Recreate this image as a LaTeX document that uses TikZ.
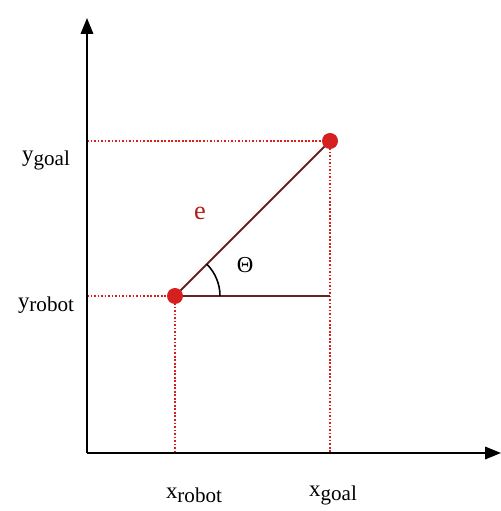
\documentclass[tikz,border=0pt]{standalone}
\usepackage{fontspec}
\setmainfont{Liberation Serif}
\usetikzlibrary{calc, positioning}
\usetikzlibrary{arrows.meta}

\definecolor{dotred}{RGB}{214,32,32}
\definecolor{linered}{RGB}{100,36,36}

\tikzset{
  axis/.style={line width=1.2pt, -{Triangle[length=9pt, width=7pt]}},
  guide/.style={dotred, densely dotted, line width=1pt},
  label/.style={font=\fontsize{13}{15}\selectfont, inner sep=0pt}
}
\newcommand{\sublabel}[2]{#1\raisebox{-0.35ex}{\fontsize{12}{14}\selectfont #2}}

\begin{document}
\begin{tikzpicture}
\useasboundingbox (0,0) rectangle (10.02,10.22);
\def\radius{0.9}

\coordinate (O) at (1.74,1.16);
\coordinate (Y) at (1.74,9.86);
\coordinate (X) at (10.02,1.16);
\coordinate (R) at (3.5,4.3);
\coordinate (G) at (6.6,7.4);
\coordinate (C) at (6.6,4.3);
\coordinate (YR) at (1.74,4.3);
\coordinate (YG) at (1.74,7.4);
\coordinate (XR) at (3.5,1.16);
\coordinate (XG) at (6.6,1.16);

% guides
\draw[guide] (YR) -- (R);
\draw[guide] (YG) -- (G);
\draw[guide] (R) -- (XR);
\draw[guide] (G) -- (XG);

% axes
\draw[axis] (O) -- (Y);
\draw[axis] (O) -- (X);

% distance and angle
\draw[linered, line width=1.2pt] (R) -- (G);
\draw[linered, line width=1.2pt] (R) -- (C);
\draw[black, line width=0.9pt] ($(R)+(\radius,0)$) arc[start angle=0, end angle=45, radius=\radius];

\fill[dotred] (R) circle (0.16);
\fill[dotred] (G) circle (0.16);

\node[label, dotred!85!black, font=\fontsize{15}{17}\selectfont] (e) at (4.0,5.96) {e};
\node[label] (theta) at (4.9,4.92) {Θ};

\node[label] (ygoal) at (0.92,7.02) {\sublabel{y}{goal}};
\node[label] (yrobot) at (0.92,4.12) {\sublabel{y}{robot}};
\node[label] (xrobot) at (3.88,0.32) {\sublabel{x}{robot}};
\node[label] (xgoal) at (6.66,0.32) {\sublabel{x}{goal}};
\end{tikzpicture}
\end{document}
